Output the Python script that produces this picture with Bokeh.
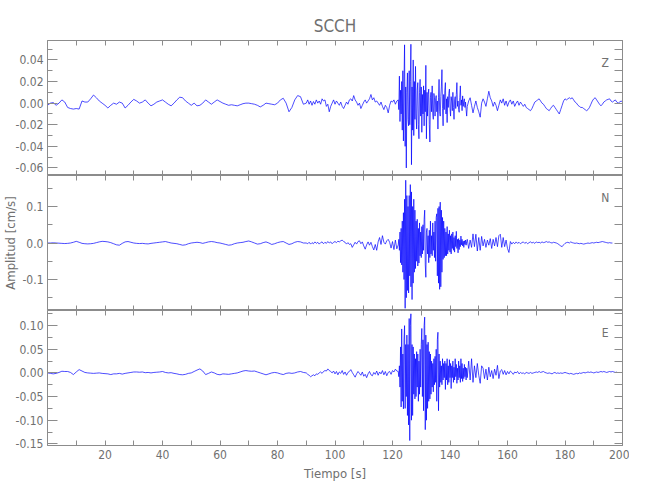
import numpy as np
from bokeh.plotting import figure
from bokeh.models import (Range1d, LinearAxis, FixedTicker, PrintfTickFormatter, Label,
                          CustomLabelingPolicy)
from bokeh.layouts import column
from bokeh.embed import file_html
from bokeh.resources import INLINE

# ---------------- data (amplitudes in 1e-3 cm/s) ----------------
UNIT = 1e-3
# segment sampling: (start time [s], step [s])
SEG_A = (0.0, 1.0)
SEG_B = (90.0, 0.5)
SEG_C = (122.0, 0.2)
SEG_D = (146.0, 0.5)

z_a = [-2, 0, 0.5, -2, 0, 3, 1, -4, -5, -5.5,
       -5, -5.5, 2, 1, 1, 4, 7.5, 5, 2, 0,
       -2, -4.5, -2, 0, -1, 1, 0, -4.5, -2, 1,
       3.5, 2, 0, 1, 3, 0, -2.5, -1, 1, 2,
       3, 1, -1, -2.5, 0, 3, 5.5, 5, 2, 0,
       -2, 0, -2.5, -2, 0, 3, 1, -1, 1, 3,
       1.5, 0, -1, -2, -1.5, -2, -2.5, -1.5, -0.5, 0,
       0, -0.5, -1, -2, -3.5, -2, 0, -0.5, -1, -1.5,
       0, 3, 4.5, 0, -8, -4, 3, 7, 6, -1]
z_b = [0, 3, -1, 2, -2, 1.5, -1, 3, 0, 2,
       -1, 4, 2, 3, -3, -1, -8, -3, 0, 3,
       -1, 2, 0, -2, 1, -3, -5, -2, 1, -1,
       3, 4, 2, 7, 3, 1, -2, 0, -5, -2,
       1, 3, 0, 2, 4, 8, 3, 5, 1, 2,
       0, -2, 1, -3, -6, -2, -4, -9, -2, 2,
       1, 3, -1, 2]
z_c = [3, -6, 25, -17, 12, -10, 20, -25, 30, -35,
       20, 54, -40, 15, -60, 10, 28, -15, -21, 30,
       -20, 20, 54.5, -57, 15, -25, 40, -30, 20, -15,
       34, -10, -24, 12, 19, -20, -33, 10, 22, -12,
       15, -27, 8, -10, 16, -21, 12, -8, 35, -33,
       10, -12, 8, 13, -20, -36, 5, 10, -8, 16,
       -10, -15, 9, 5, -12, 4, 7, -8, 2, -24,
       5, 22, -8, -12, 6, 15, 31, -5, -21, 8,
       -6, 12, 19, -10, 4, -18, 6, -4, 9, 13,
       -5, -12, 6, 2, -7, 10, -4, -15, 3, 6,
       -5, 8, 19, -3, 2, -6, -8.5, 5, 16, -2,
       3, -7, 6.7, -3, 2, 4, -4, 1, -6, -12]
z_d = [-3, 2, 5, -2, -9, -3, 2, -4, -8, -13,
       0, 4, 1, -3, 4, 11, 5, 2, -3, 1,
       -2, -7, -2, 3, 0, 4, -2, 2, -3, 1,
       3, -1, 2, -3, 0, 2, -2, 1, -1, -3,
       -1, -4, -5, -6, -7, -5, -2, 1, 2, 3,
       4, 2, 0, -1, -3, -5, -6, -7, -5, -3,
       -2, -4, -6, -8, -10, -6, -2, 2, 4, 3,
       4, 5, 4, 5, 3, 1, 0, -2, -3, -4,
       -4, -5, -6, -7, -6, -4, -1, 2, 4, 5,
       3, 1, -1, -2.5, -1, 1, 2, 3, 3.5, 4,
       2, 1, 2, 3, 1, 0, 1, 2, 1]

n_a = [0, 0, 0.5, 0, -0.5, -1, -1.5, -1, 0, 2,
       4.5, 2, -1, -2, -2.5, -2, -1, 1, 3, 4.5,
       4, 3, 1, -2, -5, -6, -1, 3, 4, 2,
       0, -1, -1.5, -1, -2, -2.5, -1, 0, 1, 2,
       3, 4, 2, 0, -1, -2, -4, -6, -5, -2,
       0, 1, 2, 1, -1, 1, 3, 4, 3, 1,
       0, -2, -4, -6, -5, -2, 0, 1, 2, 4,
       5.5, 3, 0, -3, -2, 1, 3, 0, -4, -2,
       1, 3, 4, 0, -4, -2, 2, 4, 3, 0]
n_b = [0, -2, 2, -3, 1, -2, 3, -1, 2, -3,
       1, 3, -2, 2, -1, 4, 0, 3, -2, 2,
       4, 1, 5, 3, 6, 8, 4, 2, -3, 1,
       -4, -2, -12, -5, 2, -3, 4, 6, -2, 3,
       -8, -17, -5, 3, -6, 2, -10, -19, -4, -20,
       3, 15, -4, 20, 2, -3, 6, 10, 2, -14,
       4, -18, 8, -16]
n_c = [-5, 10, -20, 30, -54, 40, -60, 60, -80, 83,
       -100, 120, -179, 172, -150, 130, -130, 100, -137, 130,
       -90, 160, -120, 140, -155, 100, -110, 120, -80, 90,
       -70, 60, -50, 65, -63, 40, -55, 55, -35, 30,
       -40, 45, -30, 50, -20, 65, 90, -60, -94, 30,
       40, -30, 20, -54, 35, -40, 60, -30, 20, -35,
       55, -20, 30, -40, 60, -50, 70, 80, -90, 95,
       -110, 100, -127, 112, -120, 90, -80, 70, -45, 60,
       -40, 40, -35, 30, -35, 45, -30, 25, -20, 35,
       -25, 20, -30, 25, -15, 30, -20, 15, -25, 20,
       -10, 32, -15, 10, -27, 12, -18, 8, -10, 19,
       -5, 10, -8, 5, -12, 6, -4, 8, -6, 4]
n_d = [10, -15, 8, -12, 25, -10, 24, -22, 15, -20,
       18, -8, 10, -12, 8, -6, 12, -15, 10, -8,
       15, -10, 20, 24, -12, 15, -10, 8, -15, -26,
       4, -3, 2, -2, 3, -1, 2, -2, 1, 3,
       -1, 2, -2, 1, 3, 0, 2, -1, 3, 1,
       2, 0, 3, 1, 2, 4, 2, 3, 1, 0,
       2, 1, 0, -2, -5, -8, -10, -5, -1, 1,
       2, 0, 3, 1, 0, -1, 0, -1, -2, -1,
       -2, -3, -2, -1, 0, -1, 0, 1, 0, 1,
       2, 1, 2, 3, 4, 3, 2, 1, 0, 1,
       0, 0]

e_a = [0, -1, -2, -1, 1, 3.5, 3, 3, 1, -3.5,
       2, 7, 4, 1, 0, -0.5, -1, -0.5, 0, -1,
       -1.5, -2, -3.5, -2, -2, -1, -2.5, -1, 0, 1,
       2, 2, 1.5, 2, 0.5, 1, 0, 1, 1.5, 2,
       3, 1, 0, 0.5, -1, -2, -3.5, -4, -3, -1,
       0, 3, 6, 8.5, 4, -3.5, -1, 2, 0, -3,
       -4, -2, -2.5, -3, -2, -1, 0, 2, 4, 5,
       4, 3.5, 4, 2, 0, -2, -4, -2, 0, 1,
       0, -2, -3.5, -1, 0, -1, 0, 2, 3, 1]
e_b = [0, -3, -5, -8, -6, -4, -6, -2, -3, 0,
       2, -1, 3, 5, 4, 8.5, 5, 3, 0, 4,
       -2, 3, -4, 2, -1, 5, -3, 2, -5, 1,
       3, 7, 1, -4, -9, -2, 3, -1, -5, 2,
       -7, -3, -10, -2, 3, -4, -6, 1, -3, 4,
       -5, 2, -2, 5, -4, 3, -6, 1, 3, -3,
       5, 2, 8, 4]
e_c = [3, -8, 15, -30, 55, -72, 93, -60, 40, -76,
       70, 100, -75, 60, -50, 80, -90, 60, -110, 115,
       -143, 100, 125, -100, 60, -90, 55, -45, 40, -55,
       30, -50, 45, -30, 40, -60, 25, -45, 50, -30,
       60, 94, -50, 70, -80, 100, 118, -120, 80, -100,
       60, -75, 65, -60, 45, -55, 40, -45, 25, -30,
       20, -40, 30, -25, 35, -20, 50, -60, 70, 86,
       -80, 40, -30, 25, -20, 15, -25, 30, -15, 20,
       -10, 25, -35, 20, -15, 30, -25, 15, -20, 28,
       -10, 20, -33, 15, -10, 25, -20, 12, -15, 30,
       -8, 18, -22, 10, -15, 25, -10, 15, -20, 30,
       -12, 20, -18, 10, -12, 18, -8, 12, -15, 10]
e_d = [-10, 25, -15, 30, -20, 15, -10, 20, -5, -22,
       15, 10, -12, 8, -15, 12, -8, 5, -12, 8,
       -5, 16, -12, 4, 7, -3, 5, -4, 3, -2,
       4, 1, -3, 2, 0, 3, -2, 1, -1, 0,
       -2, 1, 0, -1, 1, -1, 0, 1, 2, 1,
       3, 1, 2, 3, 1, 0, -1, 0, -1, -2,
       0, 1, -1, 0, -1, 0, -1, 0, 1, 0,
       -1, -2, -1, -2, -3, -2, -1, -2, 0, -1,
       0, 1, 0, 1, 2, 1, 2, 1, 0, 1,
       2, 1, 2, 3, 2, 3, 2, 1, 2, 3,
       2, 3, 2, 1, 2]

components = ["Z", "N", "E"]
y_ranges = [(-0.067, 0.058), (-0.185, 0.185), (-0.1535, 0.132)]
y_major = [[-0.06, -0.04, -0.02, 0.0, 0.02, 0.04],
           [-0.1, 0.0, 0.1],
           [-0.15, -0.10, -0.05, 0.0, 0.05, 0.10]]
y_minor = [[-0.05, -0.03, -0.01, 0.01, 0.03, 0.05],
           [-0.15, -0.05, 0.05, 0.15],
           [-0.125, -0.075, -0.025, 0.025, 0.075, 0.125]]
y_fmt = ["%.2f", "%.1f", "%.2f"]
x_major = [20, 40, 60, 80, 100, 120, 140, 160, 180, 200]
x_minor = [10, 30, 50, 70, 90, 110, 130, 150, 170, 190]

title_text = "SCCH"
x_label = "Tiempo [s]"
y_label = "Amplitud [cm/s]"


def trace(segs):
    t, v = [], []
    for (start, step), vals in segs:
        t.append(start + step * np.arange(len(vals)))
        v.append(np.asarray(vals, dtype=float) * UNIT)
    return np.concatenate(t), np.concatenate(v)


traces = [trace([(SEG_A, z_a), (SEG_B, z_b), (SEG_C, z_c), (SEG_D, z_d)]),
          trace([(SEG_A, n_a), (SEG_B, n_b), (SEG_C, n_c), (SEG_D, n_d)]),
          trace([(SEG_A, e_a), (SEG_B, e_b), (SEG_C, e_c), (SEG_D, e_d)])]

# ---------------- styling ----------------
FONT = "DejaVu Sans Condensed, Roboto, sans-serif"
AX = "#8c8c8c"
TXT = "#707070"
LINE = "#0000ff"
FRAME_W, FRAME_H = 575, 135


def style_axis(ax, tick_in, minor_in, labels=True):
    ax.axis_line_color = AX
    ax.major_tick_line_color = AX
    ax.minor_tick_line_color = AX
    ax.major_tick_in = tick_in
    ax.major_tick_out = 0
    ax.minor_tick_in = minor_in
    ax.minor_tick_out = 0
    ax.major_label_text_color = TXT
    ax.major_label_text_font = FONT
    ax.axis_label_text_font = FONT
    ax.axis_label_text_color = TXT
    ax.axis_label_text_font_style = "normal"
    if labels:
        ax.major_label_text_font_size = "12px"
        ax.major_label_standoff = 4
    else:
        ax.major_label_text_font_size = "0px"
        ax.major_label_standoff = 0
        ax.major_label_policy = CustomLabelingPolicy(code="return []")


figs = []
for i, comp in enumerate(components):
    first = i == 0
    last = i == len(components) - 1
    y0, y1 = y_ranges[i]
    p = figure(frame_width=FRAME_W, frame_height=FRAME_H,
               x_range=Range1d(0, 200), y_range=Range1d(y0, y1),
               x_axis_location=None, y_axis_location=None,
               output_backend="svg", toolbar_location=None,
               min_border_left=40, min_border_right=14,
               min_border_top=40 if first else 0,
               min_border_bottom=36 if last else 0,
               title=title_text if first else None)
    p.grid.visible = False
    p.outline_line_color = AX
    p.background_fill_color = "white"
    p.border_fill_color = "white"
    if first:
        p.title.align = "center"
        p.title.text_font = FONT
        p.title.text_font_size = "17px"
        p.title.text_font_style = "normal"
        p.title.text_color = TXT
        p.title.standoff = 10

    yt = FixedTicker(ticks=y_major[i], minor_ticks=y_minor[i])
    xt = FixedTicker(ticks=x_major, minor_ticks=x_minor)

    left = LinearAxis(ticker=yt, formatter=PrintfTickFormatter(format=y_fmt[i]))
    style_axis(left, 10, 5)
    if i == 1:
        left.axis_label = y_label
        left.axis_label_text_font_size = "13px"
        left.axis_label_standoff = 1
    p.add_layout(left, "left")

    right = LinearAxis(ticker=yt)
    style_axis(right, 8, 8, labels=False)
    p.add_layout(right, "right")

    top = LinearAxis(ticker=xt)
    style_axis(top, 5, 5, labels=False)
    p.add_layout(top, "above")

    bottom = LinearAxis(ticker=xt)
    style_axis(bottom, 5, 5, labels=last)
    if last:
        bottom.axis_label = x_label
        bottom.axis_label_text_font_size = "13px"
        bottom.axis_label_standoff = 4
    p.add_layout(bottom, "below")

    t, v = traces[i]
    p.line(t, v, line_color=LINE, line_width=0.7)

    per_px = (y1 - y0) / FRAME_H
    p.add_layout(Label(x=194, y=y1 - 22 * per_px, text=comp, text_font=FONT,
                       text_font_size="12px", text_color=TXT,
                       text_align="center", text_baseline="middle"))
    figs.append(p)

layout = column(*figs, spacing=0)
open("out.html", "w").write(file_html(layout, INLINE))
